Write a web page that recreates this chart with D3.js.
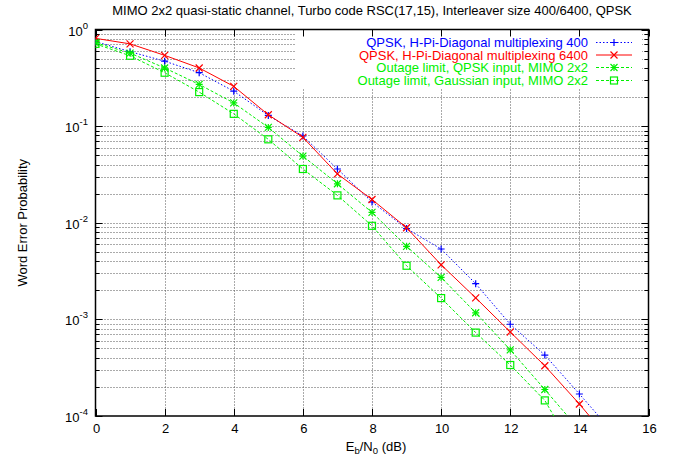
<!DOCTYPE html>
<html>
<head>
<meta charset="utf-8">
<script src="https://cdn.jsdelivr.net/npm/d3@7"></script>
<style>
  body { margin: 0; background: #fff; }
  text { font-family: "Liberation Sans", Arial, sans-serif; }
</style>
</head>
<body>
<div id="chart"></div>
<script>
// data (Eb/N0 in dB, word error probability)
var snrHPD400 = [0, 1, 2, 3, 4, 5, 6, 7, 8, 9, 10, 11, 12, 13, 14, 15];
var werHPD400 = [0.75, 0.59, 0.47, 0.357, 0.23, 0.129, 0.079, 0.036, 0.0164, 0.0087, 0.00535, 0.00234, 0.00089, 0.000427, 0.000169, 0.000066];
var snrHPD6400 = [0, 1, 2, 3, 4, 5, 6, 7, 8, 9, 10, 11, 12, 13, 14, 15];
var werHPD6400 = [0.81, 0.71, 0.54, 0.40, 0.258, 0.131, 0.0766, 0.032, 0.0174, 0.00888, 0.00367, 0.00167, 0.00074, 0.000331, 0.000133, 0.00005];
var snrOutQPSK = [0, 1, 2, 3, 4, 5, 6, 7, 8, 9, 10, 11, 12, 13, 14];
var werOutQPSK = [0.73, 0.57, 0.40, 0.27, 0.174, 0.097, 0.049, 0.0253, 0.0128, 0.0057, 0.00272, 0.00117, 0.000484, 0.000188, 0.000072];
var snrOutGauss = [0, 1, 2, 3, 4, 5, 6, 7, 8, 9, 10, 11, 12, 13, 14];
var werOutGauss = [0.71, 0.535, 0.357, 0.225, 0.134, 0.073, 0.036, 0.0192, 0.0093, 0.00359, 0.00166, 0.00073, 0.000337, 0.000145, 0.000035];

var xTicks = [0, 2, 4, 6, 8, 10, 12, 14, 16];
var yDecades = [0, -1, -2, -3, -4];

var series = [
  {name: "QPSK, H-Pi-Diagonal multiplexing 400", x: snrHPD400, y: werHPD400, color: "#0000ff", dash: "1.5,2", marker: "plus"},
  {name: "QPSK, H-Pi-Diagonal multiplexing 6400", x: snrHPD6400, y: werHPD6400, color: "#ff0000", dash: null, marker: "cross"},
  {name: "Outage limit, QPSK input, MIMO 2x2", x: snrOutQPSK, y: werOutQPSK, color: "#00f000", dash: "3,2", marker: "star"},
  {name: "Outage limit, Gaussian input, MIMO 2x2", x: snrOutGauss, y: werOutGauss, color: "#00f000", dash: "3,2", marker: "square"}
];

// settings
var w = 677, h = 460;
var pLeft = 95.5, pRight = 648.5, pTop = 29.5, pBottom = 416;
var fs = "13px";

var svg = d3.select("#chart").append("svg").attr("width", w).attr("height", h);

// scales
var xScale = d3.scaleLinear().domain([0, 16]).range([pLeft, pRight]);
var yScale = d3.scaleLog().domain([1e-4, 1]).range([pBottom, pTop]);

svg.append("defs").append("clipPath").attr("id", "plotclip")
  .append("rect").attr("x", pLeft).attr("y", pTop).attr("width", pRight - pLeft).attr("height", pBottom - pTop);

// minor y values
var yMinor = [];
for (var e = -4; e < 0; e++) {
  for (var m = 2; m <= 9; m++) yMinor.push(m * Math.pow(10, e));
}
var yMajor = yDecades.map(function(d) { return Math.pow(10, d); });

// grid
var grid = svg.append("g").attr("stroke", "#555").attr("stroke-width", 1).attr("stroke-dasharray", "1,2");
grid.selectAll("line.hy").data(yMinor.concat(yMajor.slice(1, 4))).enter().append("line")
  .attr("x1", pLeft).attr("x2", pRight)
  .attr("y1", function(d) { return Math.round(yScale(d)) + 0.5; })
  .attr("y2", function(d) { return Math.round(yScale(d)) + 0.5; });
grid.selectAll("line.vx").data(xTicks.slice(1, 8)).enter().append("line")
  .attr("y1", pTop).attr("y2", pBottom)
  .attr("x1", function(d) { return Math.round(xScale(d)) + 0.5; })
  .attr("x2", function(d) { return Math.round(xScale(d)) + 0.5; });

// legend background hides grid behind it
svg.append("rect").attr("x", 295).attr("y", pTop + 1).attr("width", 347).attr("height", 58).attr("fill", "#fff");

// axes with inward ticks
var ax = svg.append("g").attr("stroke", "#000").attr("stroke-width", 1);
xTicks.forEach(function(d) {
  var x = Math.round(xScale(d)) + 0.5;
  ax.append("line").attr("x1", x).attr("x2", x).attr("y1", pBottom).attr("y2", pBottom - 7);
  ax.append("line").attr("x1", x).attr("x2", x).attr("y1", pTop).attr("y2", pTop + 7);
});
yMajor.forEach(function(d) {
  var y = Math.round(yScale(d)) + 0.5;
  ax.append("line").attr("x1", pLeft).attr("x2", pLeft + 7).attr("y1", y).attr("y2", y);
  ax.append("line").attr("x1", pRight).attr("x2", pRight - 7).attr("y1", y).attr("y2", y);
});
yMinor.forEach(function(d) {
  var y = Math.round(yScale(d)) + 0.5;
  ax.append("line").attr("x1", pLeft).attr("x2", pLeft + 4).attr("y1", y).attr("y2", y);
  ax.append("line").attr("x1", pRight).attr("x2", pRight - 4).attr("y1", y).attr("y2", y);
});
svg.append("rect").attr("x", pLeft).attr("y", pTop).attr("width", pRight - pLeft).attr("height", pBottom - pTop)
  .attr("fill", "none").attr("stroke", "#000").attr("stroke-width", 1.5);

// tick labels
svg.selectAll("text.xt").data(xTicks).enter().append("text")
  .attr("x", function(d) { return xScale(d) + 1; }).attr("y", 433)
  .attr("text-anchor", "middle").style("font-size", fs).text(function(d) { return d; });

yDecades.forEach(function(d) {
  var t = svg.append("text").attr("x", 88).attr("y", yScale(Math.pow(10, d)) + 6)
    .attr("text-anchor", "end").style("font-size", fs);
  t.append("tspan").text("10");
  t.append("tspan").attr("dy", -7).style("font-size", "9.5px").text(d);
});

// titles
svg.append("text").attr("x", 372).attr("y", 15).attr("text-anchor", "middle").style("font-size", fs)
  .text("MIMO 2x2 quasi-static channel, Turbo code RSC(17,15), Interleaver size 400/6400, QPSK");
var xt = svg.append("text").attr("x", 376).attr("y", 451).attr("text-anchor", "middle").style("font-size", fs);
xt.append("tspan").text("E");
xt.append("tspan").attr("dy", 3).style("font-size", "9.5px").text("b");
xt.append("tspan").attr("dy", -3).text("/N");
xt.append("tspan").attr("dy", 3).style("font-size", "9.5px").text("0");
xt.append("tspan").attr("dy", -3).text(" (dB)");
svg.append("text").attr("transform", "translate(27," + ((pTop + pBottom) / 2) + ") rotate(-90)")
  .attr("text-anchor", "middle").style("font-size", fs).text("Word Error Probability");

// markers
function drawMarker(g, type, cx, cy, color) {
  var s = 3.5;
  if (type == "plus" || type == "star") {
    g.append("path").attr("d", "M" + (cx - s) + "," + cy + "H" + (cx + s) + "M" + cx + "," + (cy - s) + "V" + (cy + s))
      .attr("stroke", color).attr("stroke-width", 1.2).attr("fill", "none");
  }
  if (type == "cross" || type == "star") {
    g.append("path").attr("d", "M" + (cx - s) + "," + (cy - s) + "L" + (cx + s) + "," + (cy + s) + "M" + (cx - s) + "," + (cy + s) + "L" + (cx + s) + "," + (cy - s))
      .attr("stroke", color).attr("stroke-width", 1.2).attr("fill", "none");
  }
  if (type == "square") {
    g.append("rect").attr("x", cx - s).attr("y", cy - s).attr("width", 2 * s).attr("height", 2 * s)
      .attr("stroke", color).attr("stroke-width", 1.2).attr("fill", "none");
  }
}

var line = d3.line().x(function(d) { return xScale(d[0]); }).y(function(d) { return yScale(d[1]); });
var plot = svg.append("g").attr("clip-path", "url(#plotclip)");

series.forEach(function(s) {
  var pts = s.x.map(function(x, i) { return [x, s.y[i]]; });
  plot.append("path").datum(pts).attr("d", line).attr("fill", "none")
    .attr("stroke", s.color).attr("stroke-width", 1).attr("stroke-dasharray", s.dash);
  pts.forEach(function(p) { drawMarker(plot, s.marker, xScale(p[0]), yScale(p[1]), s.color); });
});

// legend
var legY = [42.5, 55, 67.5, 80.5];
series.forEach(function(s, i) {
  svg.append("text").attr("x", 588).attr("y", legY[i] + 4.5).attr("text-anchor", "end")
    .style("font-size", fs).attr("fill", s.color).text(s.name);
  svg.append("line").attr("x1", 596).attr("x2", 632).attr("y1", legY[i]).attr("y2", legY[i])
    .attr("stroke", s.color).attr("stroke-width", 1).attr("stroke-dasharray", s.dash);
  drawMarker(svg, s.marker, 614, legY[i], s.color);
});
</script>
</body>
</html>
